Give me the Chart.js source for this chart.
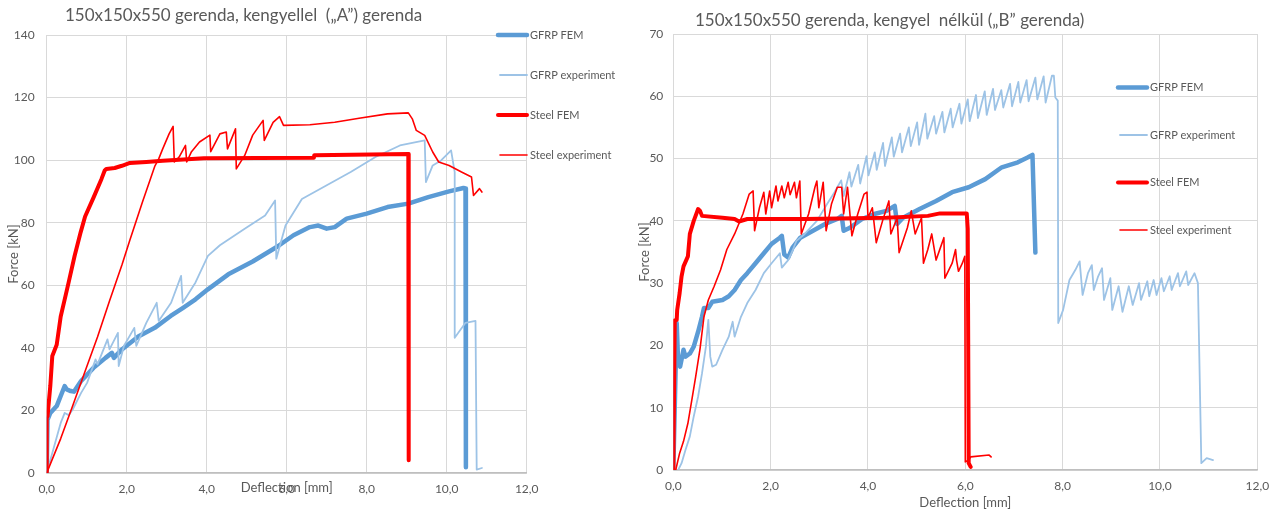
<!DOCTYPE html>
<html>
<head>
<meta charset="utf-8">
<script src="https://cdn.jsdelivr.net/npm/chart.js@4.4.1/dist/chart.umd.min.js"></script>
<style>
html, body { margin: 0; padding: 0; background: #fff; }
#wrap { position: relative; width: 1285px; height: 512px; overflow: hidden; }
.box { position: absolute; top: 0; height: 512px; }
#boxA { left: 0; width: 640px; }
#boxB { left: 628px; width: 657px; }
</style>
</head>
<body>
<div id="wrap">
  <div class="box" id="boxA"><canvas id="chartA" width="640" height="512"></canvas></div>
  <div class="box" id="boxB"><canvas id="chartB" width="657" height="512"></canvas></div>
</div>
<script>
// Series labels
const seriesNames = ["GFRP FEM", "GFRP experiment", "Steel FEM", "Steel experiment"];

// "A" gerenda (kengyellel) - [deflection mm, force kN]
const gfrpFemA = [[0,0],[0.02,17],[0.09,19.2],[0.25,21.4],[0.35,24.6],[0.45,27.8],[0.5,26.7],[0.6,26.2],[0.68,26],[0.86,29.4],[1.17,33.6],[1.47,36.8],[1.63,38.4],[1.68,36.8],[1.88,39.5],[2.29,43.6],[2.7,46.4],[3.1,50.2],[3.41,52.8],[3.72,55.5],[4.03,58.7],[4.54,63.5],[5.15,67.6],[5.77,72.4],[6.17,76],[6.58,78.6],[6.79,79.1],[7.0,78.1],[7.2,78.6],[7.5,81.3],[8.0,82.9],[8.52,85],[9.04,86.1],[9.54,88.2],[10.06,90],[10.42,91.1],[10.47,90.9],[10.48,1.8]];
const gfrpExpA = [[0,0],[0.35,16],[0.45,19.2],[0.55,18.5],[0.65,20.3],[0.86,25.6],[1.01,28.8],[1.22,36.3],[1.27,34.7],[1.52,42.7],[1.57,39.5],[1.78,44.8],[1.8,34.2],[1.93,40.6],[2.19,46.4],[2.24,40.6],[2.49,48],[2.75,54.4],[2.8,48.6],[3.11,54.4],[3.36,63],[3.4,54.4],[3.72,60.9],[4.03,69.4],[4.33,72.8],[4.95,78.1],[5.46,82.3],[5.71,87.1],[5.74,68.5],[5.97,79.1],[6.38,87.6],[6.99,91.9],[7.6,96.2],[8.22,101],[8.83,104.7],[9.45,106.3],[9.48,93],[9.65,98.3],[9.86,99.9],[10.11,103.1],[10.2,96.2],[10.2,43.2],[10.47,48],[10.72,48.6],[10.75,1.1],[10.88,1.6]];
const steelFemA = [[0,0],[0,18],[0.02,18],[0.09,27.8],[0.14,37.4],[0.25,41],[0.35,50],[0.45,55.5],[0.55,61],[0.7,69.5],[0.85,77],[0.96,82],[1.17,88],[1.37,94],[1.45,96.7],[1.49,97.2],[1.7,97.5],[1.88,98.2],[2.08,99.1],[2.49,99.4],[2.9,99.8],[3.93,100.6],[6.68,100.8],[6.69,101.6],[9.04,102],[9.05,4.1]];
const steelExpA = [[0,0],[0.35,11],[0.65,21.5],[0.96,32.5],[1.27,43.5],[1.57,55],[1.88,66.5],[2.08,74.5],[2.39,86.5],[2.7,98],[2.8,100.4],[2.9,103.6],[3.06,108.4],[3.16,110.8],[3.19,99.4],[3.31,101],[3.47,104.7],[3.5,99.4],[3.62,102.7],[3.82,105.8],[4.08,108],[4.1,102.7],[4.33,108.4],[4.49,109],[4.52,103.6],[4.72,110],[4.74,97.2],[4.95,101.5],[5.15,108],[5.41,112.7],[5.44,106.3],[5.66,112.1],[5.82,113.9],[5.92,111.1],[6.58,111.3],[7.2,112.1],[7.81,113.4],[8.52,114.8],[9.04,115.1],[9.14,113.2],[9.24,109.5],[9.45,107.9],[9.65,102.6],[9.8,99.4],[10.06,98.3],[10.37,96.2],[10.62,94.6],[10.67,88.7],[10.82,90.9],[10.88,89.8]];

// "B" gerenda (kengyel nélkül)
const gfrpFemB = [[0,0],[0.07,23.6],[0.1,17.1],[0.14,16.6],[0.21,19.3],[0.25,18.2],[0.34,18.7],[0.42,19.8],[0.51,22.2],[0.59,24.6],[0.63,26],[0.72,26],[0.8,27],[1.01,27.3],[1.14,27.9],[1.26,28.9],[1.39,30.5],[1.52,31.6],[1.69,33.2],[1.86,34.8],[2.02,36.3],[2.19,37.3],[2.23,37.6],[2.28,34.6],[2.36,34.1],[2.45,35.7],[2.61,37.3],[2.87,38.4],[3.12,39.5],[3.37,40.3],[3.46,40.8],[3.5,38.4],[3.63,38.9],[3.88,40.3],[4.13,41.1],[4.38,41.6],[4.55,42.4],[4.6,39.5],[4.72,40.5],[5.06,41.9],[5.4,43.2],[5.73,44.6],[6.07,45.4],[6.41,46.7],[6.75,48.6],[7.08,49.4],[7.29,50.2],[7.38,50.6],[7.44,34.9]];
const gfrpExpB = [[0.1,0],[0.17,1.1],[0.25,3.2],[0.34,5.4],[0.42,8.6],[0.51,11.8],[0.59,15.5],[0.67,19.8],[0.72,24.1],[0.76,18.2],[0.8,16.6],[0.88,16.9],[1.01,19.3],[1.14,21.4],[1.22,23.8],[1.26,21.4],[1.39,24.6],[1.52,26.8],[1.69,28.9],[1.86,31.6],[2.02,33.2],[2.19,34.8],[2.23,32.5],[2.36,33.7],[2.45,35.2],[2.53,36.8],[2.7,37.9],[2.95,40],[3.16,42.7],[3.29,44.3],[3.37,45.4],
  [3.45,46.5],[3.5,44],[3.62,47.8],[3.66,45.5],[3.8,49],[3.84,46],[3.97,50.4],[4.01,47.3],[4.14,51],[4.18,48.2],[4.31,52.5],[4.35,48.8],[4.49,53.4],[4.53,50.3],[4.66,54],[4.7,51],[4.84,55],[4.88,52],[5.01,55.8],[5.05,52.2],[5.18,57.2],[5.22,53.2],[5.36,56.8],[5.4,54],[5.53,57.5],[5.57,54.2],[5.7,58],[5.74,55],[5.88,58.8],[5.92,55.6],[6.05,59.5],[6.09,56],[6.22,60.2],[6.26,56.5],[6.4,60.8],[6.44,57],[6.57,61.2],[6.61,57.8],[6.74,61],[6.78,58.2],[6.92,62],[6.96,58.4],[7.09,62.3],[7.13,59],[7.26,62.6],[7.3,59.2],[7.44,63],[7.48,59.5],[7.61,63.2],[7.65,59],[7.78,63.3],
  [7.82,63.3],[7.85,59.8],[7.9,59.3],[7.91,23.6],[8.01,25.7],[8.14,30.5],[8.26,32.1],[8.35,33.5],[8.41,28.1],[8.52,31.6],[8.6,32.9],[8.64,28.9],[8.73,31.1],[8.81,32.4],[8.85,27.3],[8.98,30.8],[9.02,25.7],[9.15,29.5],[9.23,25.4],[9.36,29.5],[9.44,26.5],[9.57,30],[9.61,27.3],[9.74,30.3],[9.78,27.9],[9.87,30.5],[9.93,28.1],[10.03,30.8],[10.08,28.7],[10.2,31.1],[10.24,28.9],[10.37,31.6],[10.41,29.5],[10.54,31.9],[10.58,29.7],[10.71,31.6],[10.78,30],[10.85,1.1],[10.96,1.9],[11.09,1.6]];
const steelFemB = [[0,0],[0.03,24],[0.07,24.1],[0.08,25.7],[0.13,28.4],[0.17,31.1],[0.21,32.7],[0.3,34.3],[0.34,37.9],[0.42,40],[0.51,41.9],[0.55,41.6],[0.59,40.8],[1.01,40.5],[1.26,40.3],[1.35,39.9],[1.52,40.3],[2.7,40.3],[4.38,40.5],[5.23,40.8],[5.48,41.2],[6.03,41.2],[6.05,38.7],[6.07,1.1],[6.11,0.5]];
const steelExpB = [[0.05,0],[0.13,2.7],[0.21,4.6],[0.3,7.5],[0.38,11.2],[0.46,15],[0.55,19.5],[0.63,24.6],[0.72,27.3],[0.84,29.5],[0.97,32.1],[1.1,35.4],[1.26,37.9],[1.43,41.1],[1.56,44.3],[1.64,44.8],[1.67,38.4],[1.77,42.1],[1.86,44.6],[1.9,41.1],[1.98,44.8],[2.02,42.1],[2.11,45.6],[2.15,43.2],[2.23,45.6],[2.28,43.7],[2.36,46.2],[2.4,44.2],[2.49,46.2],[2.53,43.7],[2.6,46.4],[2.63,37.9],[2.78,41.1],[2.91,45.4],[2.95,46.4],[2.99,42.1],[3.08,46.2],[3.14,38.4],[3.25,42.7],[3.37,45.4],[3.46,45.4],[3.5,41.1],[3.58,45.4],[3.67,37.6],[3.79,41.1],[3.92,44.3],[3.98,44.6],[4.0,40.5],[4.09,42.1],[4.17,36.5],[4.3,40],[4.43,43.2],[4.47,37.9],[4.6,40.5],[4.64,34.9],[4.81,38.9],[4.89,41.6],[4.97,37.9],[5.1,40.5],[5.14,33.2],[5.23,35.4],[5.31,37.9],[5.4,33.7],[5.48,35.5],[5.56,37.3],[5.58,30.8],[5.73,33.2],[5.8,35.4],[5.82,33.7],[5.86,31.9],[5.94,33.2],[5.99,34.3],[6.0,1.3],[6.07,1.6],[6.11,2.1],[6.49,2.4],[6.53,2.1]];

// Axis ticks
const xTicks = { min: 0, max: 12, step: 2 };
const yTicksA = { min: 0, max: 140, step: 20 };
const yTicksB = { min: 0, max: 70, step: 10 };

const txtColor = "#595959";
const fontFam = "Lato, 'Open Sans', sans-serif";

const toXY = arr => arr.map(p => ({ x: p[0], y: p[1] }));

function makeDatasets(gf, ge, sf, se) {
    return [
        { label: seriesNames[0], data: toXY(gf), borderColor: "#5B9BD5", borderWidth: 4.5, order: 4 },
        { label: seriesNames[1], data: toXY(ge), borderColor: "#9DC3E6", borderWidth: 1.8, order: 3 },
        { label: seriesNames[2], data: toXY(sf), borderColor: "#FF0000", borderWidth: 4, order: 2 },
        { label: seriesNames[3], data: toXY(se), borderColor: "#FF0000", borderWidth: 1.6, order: 1 }
    ].map(ds => Object.assign(ds, {
        showLine: true, pointRadius: 0, tension: 0, fill: false,
        borderJoinStyle: "round", borderCapStyle: "round"
    }));
}

// Custom title and legend (Excel-like placement)
const excelDeco = {
    id: "excelDeco",
    afterDraw(chart, args, opts) {
        const ctx = chart.ctx;
        ctx.save();
        ctx.fillStyle = txtColor;
        ctx.textBaseline = "middle";
        ctx.textAlign = "left";
        ctx.font = "17px " + fontFam;
        ctx.fillText(opts.title, opts.titleX, opts.titleY);

        ctx.font = "11px " + fontFam;
        chart.data.datasets.forEach((ds, i) => {
            const y = opts.legTop + i * opts.legGap;
            ctx.strokeStyle = ds.borderColor;
            ctx.lineWidth = ds.borderWidth;
            ctx.lineCap = "round";
            ctx.beginPath();
            ctx.moveTo(opts.legX0 + (ds.borderWidth < 3 ? 2 : 0), y);
            ctx.lineTo(opts.legX1, y);
            ctx.stroke();
            ctx.fillText(ds.label, opts.legX1 + 3, y);
        });
        ctx.restore();
    }
};

function makeOptions(yt, geo) {
    return {
        responsive: false,
        animation: false,
        layout: { padding: { left: 0, right: geo.padRight, top: geo.top, bottom: 0 } },
        scales: {
            x: {
                type: "linear", min: xTicks.min, max: xTicks.max,
                afterFit: s => { s.height = geo.xHeight; },
                ticks: {
                    stepSize: xTicks.step, padding: 9, color: txtColor,
                    font: { family: fontFam, size: 12 },
                    callback: v => v.toFixed(1).replace(".", ",")
                },
                grid: { color: "#d9d9d9", lineWidth: 1, drawTicks: false },
                border: { color: "#bfbfbf", width: 1.5 },
                title: {
                    display: true, text: "Deflection [mm]", color: txtColor,
                    font: { family: fontFam, size: 13 },
                    padding: { top: 0, bottom: geo.xTitlePad }
                }
            },
            y: {
                min: yt.min, max: yt.max,
                afterFit: s => { s.width = geo.yWidth; },
                ticks: {
                    stepSize: yt.step, padding: geo.yTickPad, color: txtColor,
                    font: { family: fontFam, size: 12 }
                },
                grid: { color: "#d9d9d9", lineWidth: 1, drawTicks: false },
                border: { color: "#d9d9d9" },
                title: {
                    display: true, text: "Force [kN]", color: txtColor,
                    font: { family: fontFam, size: 13 },
                    padding: { top: geo.yTitlePad, bottom: 0 }
                }
            }
        },
        plugins: {
            legend: { display: false },
            tooltip: { enabled: false },
            excelDeco: geo.deco
        }
    };
}

new Chart(document.getElementById("chartA"), {
    type: "scatter",
    data: { datasets: makeDatasets(gfrpFemA, gfrpExpA, steelFemA, steelExpA) },
    options: makeOptions(yTicksA, {
        padRight: 113.3, top: 35, xHeight: 39, yWidth: 46.7, yTickPad: 12,
        xTitlePad: 16, yTitlePad: 6,
        deco: {
            title: "150x150x550 gerenda, kengyellel  (\u201eA\u201d) gerenda", titleX: 65, titleY: 16,
            legX0: 498, legX1: 527, legTop: 35, legGap: 40
        }
    }),
    plugins: [excelDeco]
});

new Chart(document.getElementById("chartB"), {
    type: "scatter",
    data: { datasets: makeDatasets(gfrpFemB, gfrpExpB, steelFemB, steelExpB) },
    options: makeOptions(yTicksB, {
        padRight: 27.7, top: 34, xHeight: 42, yWidth: 45.3, yTickPad: 10,
        xTitlePad: 1, yTitlePad: 9,
        deco: {
            title: "150x150x550 gerenda, kengyel  n\u00e9lk\u00fcl (\u201eB\u201d gerenda)", titleX: 67, titleY: 21,
            legX0: 490, legX1: 519, legTop: 87.5, legGap: 47.5
        }
    }),
    plugins: [excelDeco]
});
</script>
</body>
</html>
